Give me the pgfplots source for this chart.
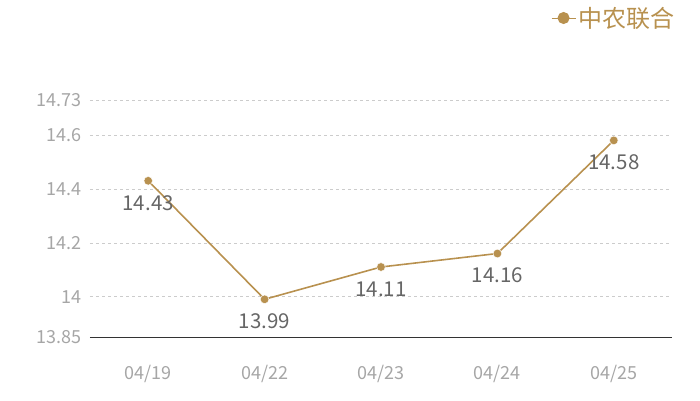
\documentclass[border=0pt]{standalone}
\usepackage{pgfplots}
\pgfplotsset{compat=1.18}
\usepackage{fontspec}
\setmainfont{Noto Sans CJK SC}
\definecolor{gold}{HTML}{B8914F}
\definecolor{ticktxt}{HTML}{A6A6A6}
\definecolor{valtxt}{HTML}{666666}
\begin{document}
\begin{tikzpicture}
\begin{axis}[
  name=ax, at={(0pt,0pt)}, anchor=south west,
  scale only axis, width=582pt, height=237pt,
  xmin=-0.5, xmax=4.5, ymin=13.85, ymax=14.73,
  xtick={0,1,2,3,4},
  xticklabels={04/19,04/22,04/23,04/24,04/25},
  ytick={13.85,14,14.2,14.4,14.6,14.73},
  yticklabels={13.85,14,14.2,14.4,14.6,14.73},
  axis x line*=bottom, axis y line*=left,
  y axis line style={draw=none},
  x axis line style={draw=black!80, line width=0.8pt, -},
  ymajorgrids, major grid style={dashed, draw=black!20, line width=0.4pt},
  major tick length=0pt,
  tick label style={font=\fontsize{18}{20}\selectfont, text=ticktxt},
  xticklabel style={yshift=-25pt},
  yticklabel style={xshift=-5pt, anchor=east},
  clip=false,
  legend style={at={(axis description cs:1.007,1.346)}, anchor=east, draw=none, fill=none,
    font=\fontsize{24}{26}\selectfont, text=gold, inner sep=0pt, outer sep=0pt},
  legend cell align=left,
  legend image code/.code={
    \draw[gold, line width=1pt] (-6pt,0pt) -- (18pt,0pt);
    \fill[gold] (6pt,0pt) circle (5.2pt);
  },
]
\addplot[gold, line width=1.6pt, mark=*, mark size=4.3pt,
  mark options={fill=gold, draw=white, line width=0.4pt},
  nodes near coords, point meta=explicit symbolic,
  every node near coord/.append style={anchor=center, yshift=-22pt,
    font=\fontsize{20.5}{22}\selectfont, text=valtxt}]
  coordinates {
  (0,14.43) [14.43]
  (1,13.99) [13.99]
  (2,14.11) [14.11]
  (3,14.16) [14.16]
  (4,14.58) [14.58]
  };
\addlegendentry{中农联合}
\end{axis}
\pgfresetboundingbox
\path[use as bounding box] ([xshift=-90pt,yshift=-63pt]ax.south west) rectangle ++(700pt,400pt);
\end{tikzpicture}
\end{document}
